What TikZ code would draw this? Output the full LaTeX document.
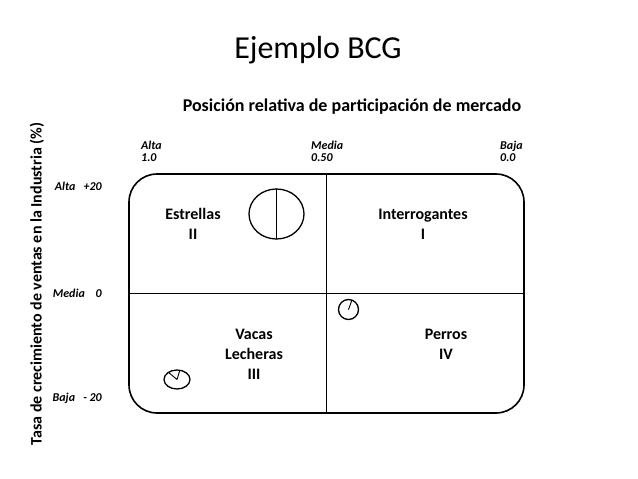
\documentclass[tikz,border=0pt]{standalone}
\usepackage{fontspec}
\setmainfont{Carlito}
\usepackage{tikz}
\usetikzlibrary{arrows.meta}
\usepackage{xcolor}

\begin{document}
\begin{tikzpicture}[x=1pt,y=-1pt,line cap=round,
  eje/.style={font=\fontsize{12}{12}\selectfont\bfseries\itshape,align=left,inner sep=0pt},
  cuadrante/.style={font=\fontsize{16}{20}\selectfont\bfseries,align=center,inner sep=0pt}]
\useasboundingbox (0,0) rectangle (638,479);
\node (titulo) at (318,50) {\fontsize{32}{36}\selectfont Ejemplo BCG};
\node[font=\fontsize{18}{20}\selectfont\bfseries] (mercado) at (352,107) {Posición relativa de participación de mercado};
\node[rotate=90,font=\fontsize{16}{18}\selectfont\bfseries] (crecimiento) at (37,284) {Tasa de crecimiento de ventas en la Industria (\%)};
\node[eje,anchor=west] (alta1) at (141,151) {Alta\\1.0};
\node[eje,anchor=west] (media1) at (311,151) {Media\\0.50};
\node[eje,anchor=west] (baja1) at (500,151) {Baja\\0.0};
\node[eje,anchor=east] (alta2) at (102,186) {Alta\ \ \ +20};
\node[eje,anchor=east] (media2) at (102,293) {Media\ \ \ \ 0};
\node[eje,anchor=east] (baja2) at (102,398) {Baja\ \ \ - 20};
% matriz
\node[draw,line width=1.6pt,rounded corners=28pt,minimum width=395pt,minimum height=239pt,inner sep=0pt,outer sep=0pt] (matriz) at (326.5,293.5) {};
\draw[line width=0.9pt] (matriz.north) -- (matriz.south);
\draw[line width=0.9pt] (matriz.west) -- (matriz.east);
\node[cuadrante] (estrellas) at (193,224) {Estrellas\\II};
\node[cuadrante] (interrogantes) at (423,224) {Interrogantes\\I};
\node[cuadrante] (vacas) at (254,354) {Vacas\\Lecheras\\III};
\node[cuadrante] (perros) at (446,344) {Perros\\IV};
% circulos
\draw[line width=1.3pt] (276.5,214) ellipse (27.5 and 25);
\draw[line width=0.9pt] (276.5,189) -- (276.5,239);
\draw[line width=1.3pt] (348.5,309.5) circle (10);
\draw[line width=0.9pt] (348.5,309.5) -- ++(-70:9.5);
\draw[line width=1.3pt] (177,379.5) ellipse (13 and 9.5);
\draw[line width=0.9pt] (177,379.5) -- ++(-140:11) (177,379.5) -- ++(-73:9.5);
\end{tikzpicture}
\end{document}
